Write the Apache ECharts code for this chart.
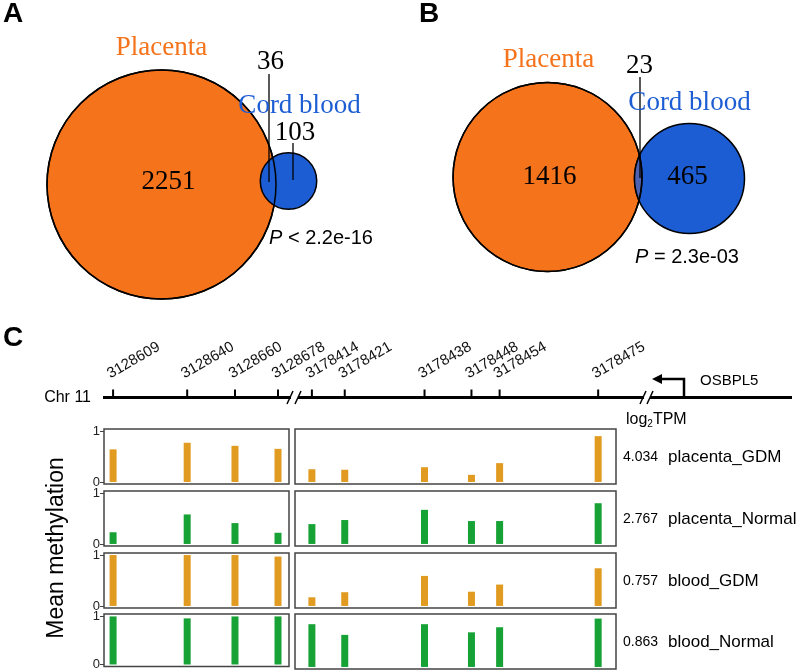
<!DOCTYPE html>
<html><head><meta charset="utf-8">
<script src="https://cdn.jsdelivr.net/npm/echarts@6/dist/echarts.min.js"></script>
<style>html,body{margin:0;padding:0;background:#fff}#c{width:797px;height:671px}</style>
</head><body><div id="c"></div>
<script>
// ---------------- data ----------------
const vennSetNames = ['Placenta', 'Cord blood'];
const vennA_counts = [2251, 36, 103];   // placenta only, overlap, cord blood only
const vennA_p = ['P', ' < 2.2e-16'];
const vennB_counts = [1416, 23, 465];
const vennB_p = ['P', ' = 2.3e-03'];

const cpgLeft = [3128609, 3128640, 3128660, 3128678];
const cpgRight = [3178414, 3178421, 3178438, 3178448, 3178454, 3178475];
const geneName = 'OSBPL5';
const chrName = 'Chr 11';
const sampleNames = ['placenta_GDM', 'placenta_Normal', 'blood_GDM', 'blood_Normal'];
const log2TPM = ['4.034', '2.767', '0.757', '0.863'];
const methPlacentaGDM    = [0.64, 0.77, 0.71, 0.65, 0.25, 0.24, 0.29, 0.14, 0.37, 0.90];
const methPlacentaNormal = [0.23, 0.58, 0.41, 0.22, 0.39, 0.47, 0.67, 0.45, 0.45, 0.80];
const methBloodGDM       = [1.00, 1.00, 1.00, 0.97, 0.17, 0.27, 0.59, 0.28, 0.42, 0.74];
const methBloodNormal    = [0.99, 0.95, 0.99, 0.99, 0.84, 0.63, 0.84, 0.68, 0.78, 0.95];
const yTicks = [0, 1];

// ---------------- style / layout ----------------
const SERIF = '"Liberation Serif","Times New Roman",serif';
const SANS = '"Liberation Sans",Arial,sans-serif';
const ORANGE = '#F5731A', BLUE = '#1C5DD3', LENS = '#4E62B2';
const BAR_OR = '#E19B20', BAR_GR = '#17A236';
const LEFT_X = 104, LEFT_W = 185, RIGHT_X = 295, RIGHT_W = 321;
const LEFT_RANGE = [3128605.2, 3128682.6], RIGHT_RANGE = [3178410.4, 3178478.8];
const LINE_Y = 397.5;
const rowTops = [429, 491, 553, 614], ROW_H = 55;
const rowData = [methPlacentaGDM, methPlacentaNormal, methBloodGDM, methBloodNormal];
const rowColor = [BAR_OR, BAR_GR, BAR_OR, BAR_GR];

const chart = echarts.init(document.getElementById('c'), null, {renderer: 'canvas', width: 797, height: 671});

function txt(x, y, text, font, fill, align, valign, extra) {
  return Object.assign({type: 'text', x: x, y: y,
    style: {text: text, x: 0, y: 0, font: font, fill: fill,
      align: align, textAlign: align, verticalAlign: valign, textVerticalAlign: valign}}, extra || {});
}

// Venn renderer (1 data unit = 1 px in the hidden venn grid)
function vennRender(counts, pv, cfg) {
  return function (params, api) {
    const r1 = cfg.k * Math.sqrt(counts[0] + counts[1]);
    const r2 = cfg.k * Math.sqrt(counts[1] + counts[2]);
    const c1 = api.coord([cfg.cx, cfg.cy]);
    const c2 = api.coord([cfg.cx + cfg.d, cfg.cy + cfg.dy]);
    const R1 = api.size([r1, r1])[0], R2 = api.size([r2, r2])[0];
    const ch = [];
    ch.push({type: 'circle', shape: {cx: c1[0], cy: c1[1], r: R1}, style: {fill: ORANGE, stroke: '#000', lineWidth: 1.5}});
    ch.push({type: 'circle', shape: {cx: c2[0], cy: c2[1], r: R2}, style: {fill: BLUE, stroke: '#000', lineWidth: 1.5}});
    if (cfg.lens) {
      const dx = c2[0] - c1[0], dy = c2[1] - c1[1];
      const d = Math.sqrt(dx * dx + dy * dy);
      const a = (R1 * R1 - R2 * R2 + d * d) / (2 * d);
      const al1 = Math.acos(a / R1), al2 = Math.acos((d - a) / R2);
      const t12 = Math.atan2(dy, dx), t21 = t12 + Math.PI;
      const pts = [];
      const N = 40;
      for (let i = 0; i <= N; i++) { const t = t12 - al1 + 2 * al1 * i / N; pts.push([c1[0] + R1 * Math.cos(t), c1[1] + R1 * Math.sin(t)]); }
      for (let i = 0; i <= N; i++) { const t = t21 - al2 + 2 * al2 * i / N; pts.push([c2[0] + R2 * Math.cos(t), c2[1] + R2 * Math.sin(t)]); }
      ch.push({type: 'polygon', shape: {points: pts}, style: {fill: LENS, stroke: '#000', lineWidth: 1.5}});
    }
    ch.push({type: 'circle', shape: {cx: c1[0], cy: c1[1], r: R1}, style: {fill: 'none', stroke: '#000', lineWidth: 1.5}});
    // leader lines
    cfg.leaders.forEach(function (l) {
      ch.push({type: 'line', shape: {x1: l[0], y1: l[1], x2: l[0], y2: l[2]}, style: {stroke: '#000', lineWidth: 1.3}});
    });
    const F = '27px ' + SERIF;
    ch.push(txt(cfg.nameA[0], cfg.nameA[1], vennSetNames[0], F, ORANGE, 'center', 'middle'));
    ch.push(txt(cfg.nameB[0], cfg.nameB[1], vennSetNames[1], F, BLUE, 'center', 'middle'));
    ch.push(txt(cfg.n0[0], cfg.n0[1], String(counts[0]), F, '#000', 'center', 'middle'));
    ch.push(txt(cfg.n1[0], cfg.n1[1], String(counts[1]), F, '#000', 'center', 'middle'));
    ch.push(txt(cfg.n2[0], cfg.n2[1], String(counts[2]), F, '#000', 'center', 'middle'));
    ch.push({type: 'text', x: cfg.p[0], y: cfg.p[1], style: {
      text: '{i|' + pv[0] + '}{n|' + pv[1] + '}', x: 0, y: 0, align: 'left', textAlign: 'left', verticalAlign: 'middle', textVerticalAlign: 'middle',
      rich: {i: {font: 'italic 20px ' + SANS, fill: '#000'}, n: {font: '20px ' + SANS, fill: '#000'}}}});
    return {type: 'group', children: ch};
  };
}

const vennCfgA = {k: 114.5 / Math.sqrt(2287), cx: 161.5, cy: 184.5, d: 127, dy: -3.5, lens: false,
  leaders: [[269, 74, 182], [293, 143, 180]],
  nameA: [161.5, 48], nameB: [299.5, 106], n0: [168.5, 182], n1: [270.5, 62], n2: [295, 133], p: [269, 238]};
const vennCfgB = {k: 2.49, cx: 547.5, cy: 177, d: 142, dy: 1.5, lens: true,
  leaders: [[640, 77, 178]],
  nameA: [548.5, 60], nameB: [689.5, 103], n0: [549.5, 177], n1: [639.5, 66], n2: [687.5, 177], p: [635, 257]};

function chrRender(params, api) {
  const v = api.value(0);
  const p = api.coord([v, 0]);
  return {type: 'group', children: [
    {type: 'line', shape: {x1: p[0], y1: p[1] - 8, x2: p[0], y2: p[1]}, style: {stroke: '#000', lineWidth: 2}},
    txt(p[0] - 1, p[1] - 16, String(v), '15px ' + SANS, '#111', 'left', 'bottom', {rotation: Math.PI / 6})
  ]};
}

// ---------------- grids / axes ----------------
const grids = [], xAxes = [], yAxes = [], series = [];
// 0: venn canvas grid
grids.push({left: 0, top: 0, width: 797, height: 671, show: false});
xAxes.push({type: 'value', gridIndex: 0, min: 0, max: 797, show: false});
yAxes.push({type: 'value', gridIndex: 0, min: 0, max: 671, inverse: true, show: false});
series.push({type: 'custom', xAxisIndex: 0, yAxisIndex: 0, data: [[0, 0]], renderItem: vennRender(vennA_counts, vennA_p, vennCfgA), z: 2});
series.push({type: 'custom', xAxisIndex: 0, yAxisIndex: 0, data: [[0, 0]], renderItem: vennRender(vennB_counts, vennB_p, vennCfgB), z: 2});

// 1,2: chromosome track grids
[[LEFT_X, LEFT_W, LEFT_RANGE, cpgLeft], [RIGHT_X, RIGHT_W, RIGHT_RANGE, cpgRight]].forEach(function (g) {
  const gi = grids.length;
  grids.push({left: g[0], width: g[1], top: LINE_Y - 60, height: 60, show: false});
  xAxes.push({type: 'value', gridIndex: gi, min: g[2][0], max: g[2][1], show: false});
  yAxes.push({type: 'value', gridIndex: gi, min: 0, max: 1, show: false});
  series.push({type: 'custom', xAxisIndex: gi, yAxisIndex: gi, data: g[3].map(function (p) { return [p, 0]; }), renderItem: chrRender, z: 5, clip: false});
});

// bar grids
rowTops.forEach(function (top, r) {
  [[LEFT_X, LEFT_W, LEFT_RANGE, cpgLeft, 0], [RIGHT_X, RIGHT_W, RIGHT_RANGE, cpgRight, cpgLeft.length]].forEach(function (g, side) {
    const gi = grids.length;
    grids.push({left: g[0], width: g[1], top: top, height: ROW_H, show: true, borderColor: '#444', borderWidth: 1.5, backgroundColor: 'transparent'});
    xAxes.push({type: 'value', gridIndex: gi, min: g[2][0], max: g[2][1], show: false});
    yAxes.push({type: 'value', gridIndex: gi, min: -0.04, max: 1.04, show: side === 0,
      axisLine: {show: false}, splitLine: {show: false},
      axisTick: {show: true, customValues: yTicks, length: 4, lineStyle: {color: '#444', width: 1}},
      axisLabel: {show: true, customValues: yTicks, fontSize: 13, color: '#222', fontFamily: 'Liberation Sans', margin: 4}});
    series.push({type: 'bar', xAxisIndex: gi, yAxisIndex: gi, barWidth: 7,
      data: g[3].map(function (p, i) { return [p, rowData[r][g[4] + i]]; }),
      itemStyle: {color: rowColor[r]}, silent: true});
  });
});

// ---------------- decorations ----------------
const graphic = [];
function gtext(x, y, text, font, fill, align, valign, extra) {
  return Object.assign({type: 'text', x: x, y: y, z: 10, silent: true,
    style: {text: text, font: font, fill: fill, align: align, textAlign: align, verticalAlign: valign, textVerticalAlign: valign}}, extra || {});
}
function gline(x1, y1, x2, y2, w) {
  return {type: 'line', z: 4, silent: true, shape: {x1: x1, y1: y1, x2: x2, y2: y2}, style: {stroke: '#000', lineWidth: w, lineCap: 'butt'}};
}
graphic.push(gtext(3, 14, 'A', 'bold 28px ' + SANS, '#000', 'left', 'middle'));
graphic.push(gtext(419, 14, 'B', 'bold 28px ' + SANS, '#000', 'left', 'middle'));
graphic.push(gtext(3, 338, 'C', 'bold 28px ' + SANS, '#000', 'left', 'middle'));
graphic.push(gtext(91, LINE_Y, chrName, '16px ' + SANS, '#000', 'right', 'middle'));
// chromosome line with breaks
graphic.push(gline(103, LINE_Y, 291, LINE_Y, 3));
graphic.push(gline(298, LINE_Y, 644, LINE_Y, 3));
graphic.push(gline(650, LINE_Y, 792, LINE_Y, 3));
graphic.push(gline(287, 404, 293, 391, 1.5));
graphic.push(gline(295, 404, 301, 391, 1.5));
graphic.push(gline(640, 404, 646, 391, 1.5));
graphic.push(gline(647, 404, 653, 391, 1.5));
// gene TSS arrow
graphic.push({type: 'polyline', z: 4, silent: true, shape: {points: [[684, LINE_Y], [684, 379], [661, 379]]}, style: {stroke: '#000', lineWidth: 2.5, fill: 'none'}});
graphic.push({type: 'polygon', z: 4, silent: true, shape: {points: [[652, 379], [662, 374], [662, 384]]}, style: {fill: '#000'}});
graphic.push(gtext(700, 381, geneName, '15px ' + SANS, '#000', 'left', 'middle'));
// y axis title
graphic.push(gtext(57, 548, 'Mean methylation', '23px ' + SANS, '#000', 'center', 'middle', {rotation: Math.PI / 2}));
// log2TPM header
graphic.push({type: 'text', x: 626, y: 420, z: 10, silent: true, style: {text: '{a|log}{s|2}{a|TPM}', align: 'left', textAlign: 'left', verticalAlign: 'middle', textVerticalAlign: 'middle',
  rich: {a: {font: '16px ' + SANS, fill: '#000'}, s: {font: '10px ' + SANS, fill: '#000', padding: [8, 0, 0, 0]}}}});
sampleNames.forEach(function (n, i) {
  const yc = rowTops[i] + ROW_H / 2 + 1;
  graphic.push(gtext(623, yc, log2TPM[i], '14px ' + SANS, '#000', 'left', 'middle'));
  graphic.push(gtext(668, yc, n, '17px ' + SANS, '#000', 'left', 'middle'));
});

chart.setOption({
  animation: false,
  backgroundColor: '#fff',
  grid: grids, xAxis: xAxes, yAxis: yAxes, series: series, graphic: graphic
});
</script>
</body></html>
